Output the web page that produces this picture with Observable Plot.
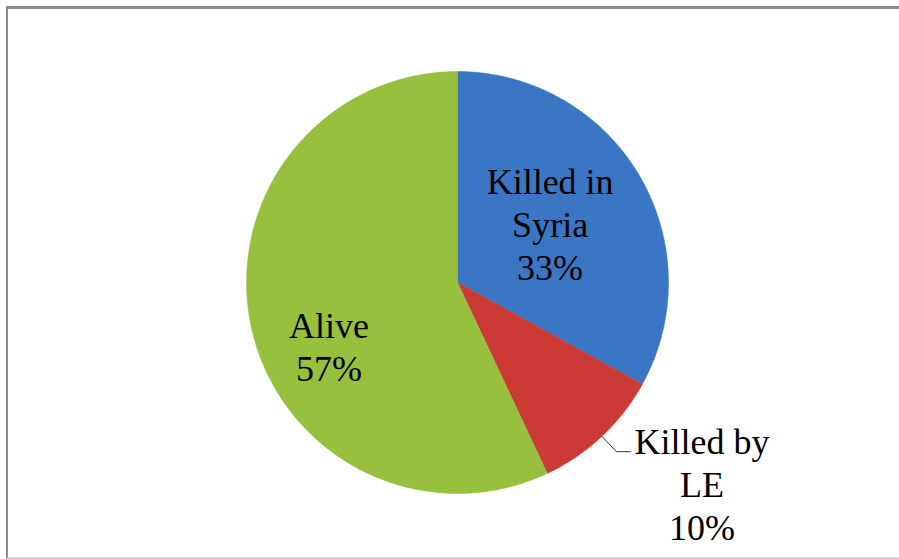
<!DOCTYPE html>
<html>
<head>
<meta charset="utf-8">
<script src="https://cdn.jsdelivr.net/npm/d3@7"></script>
<script src="https://cdn.jsdelivr.net/npm/@observablehq/plot@0.6"></script>
</head>
<body style="margin:0;padding:0;background:#fff">
<div style="font-family:'Times New Roman';font-size:36px;position:absolute;left:0;top:0;color:#fff">Killed</div>
<div id="wrap" style="position:relative;width:899px;height:559px;overflow:hidden">
  <div id="chart" style="position:absolute;left:0;top:0"></div>
  <div style="position:absolute;left:6px;top:6px;width:920px;height:548px;border-left:2px solid #8c8c8c;border-top:3px solid #8c8c8c;border-bottom:2px solid #d4d4d4"></div>
</div>
<script>
// ---- data ----
const categories = ["Killed in Syria", "Killed by LE", "Alive"];
const shares = [33, 10, 57];
const labelLines = [["Killed in", "Syria", "33%"], ["Killed by", "LE", "10%"], ["Alive", "57%"]];
const colors = ["#3b76c4", "#cb3a35", "#98c03f"];

// ---- layout (presentation) ----
const cx = 457, cy = 282, R = 211;
const lineStep = 43 / R; // line spacing in unit-radius coordinates
const labelPlacement = {
  "Killed in Syria": {r: 0.51, off: [0, -0.01]},
  "Killed by LE": {outside: true},
  "Alive": {r: 0.68, off: [0, 0]}
};

const pie = d3.pie().sort(null).value(d => d.value);
const arcs = pie(categories.map((c, i) => ({label: c, value: shares[i], lines: labelLines[i]})));

// polygon points of each slice (unit circle, angle 0 at top, clockwise)
const pts = [];
for (const a of arcs) {
  const n = Math.max(2, Math.ceil((a.endAngle - a.startAngle) / 0.01));
  pts.push({label: a.data.label, x: 0, y: 0});
  for (let k = 0; k <= n; k++) {
    const t = a.startAngle + (a.endAngle - a.startAngle) * k / n;
    pts.push({label: a.data.label, x: Math.sin(t), y: -Math.cos(t)});
  }
  pts.push({label: a.data.label, x: 0, y: 0});
}

// label anchors, one text datum per line
const textRows = [], leader = [];
for (const a of arcs) {
  const mid = (a.startAngle + a.endAngle) / 2;
  const p = labelPlacement[a.data.label];
  let ax, ay;
  if (p.outside) {
    const e0 = {x: Math.sin(mid), y: -Math.cos(mid)};
    const e1 = {x: Math.sin(mid) * 1.1, y: -Math.cos(mid) * 1.1};
    const e2 = {x: e1.x + 0.066, y: e1.y};
    leader.push(e0, e1, e2);
    ax = e2.x + 0.34; ay = e2.y + 0.16;
  } else {
    ax = Math.sin(mid) * p.r + p.off[0];
    ay = -Math.cos(mid) * p.r + p.off[1];
    if (a.data.label === "Alive") { ax = -0.609; ay = 0.31; }
  }
  const L = a.data.lines;
  L.forEach((s, i) => textRows.push({text: s, x: ax, y: ay + (i - (L.length - 1) / 2) * lineStep}));
}

const chart = Plot.plot({
  width: 899,
  height: 559,
  margin: 0,
  x: {domain: [-1, 1], range: [cx - R, cx + R], axis: null},
  y: {domain: [-1, 1], range: [cy - R, cy + R], axis: null},
  color: {domain: categories, range: colors},
  marks: [
    Plot.line(pts, {x: "x", y: "y", z: "label", fill: "label", stroke: "label", strokeWidth: 0.5, curve: "linear"}),
    Plot.line(leader, {x: "x", y: "y", stroke: "#333", strokeWidth: 1}),
    Plot.text(textRows, {x: "x", y: "y", text: "text", fontFamily: "Times New Roman", fontSize: 36})
  ]
});
document.getElementById("chart").appendChild(chart);
</script>
</body>
</html>
